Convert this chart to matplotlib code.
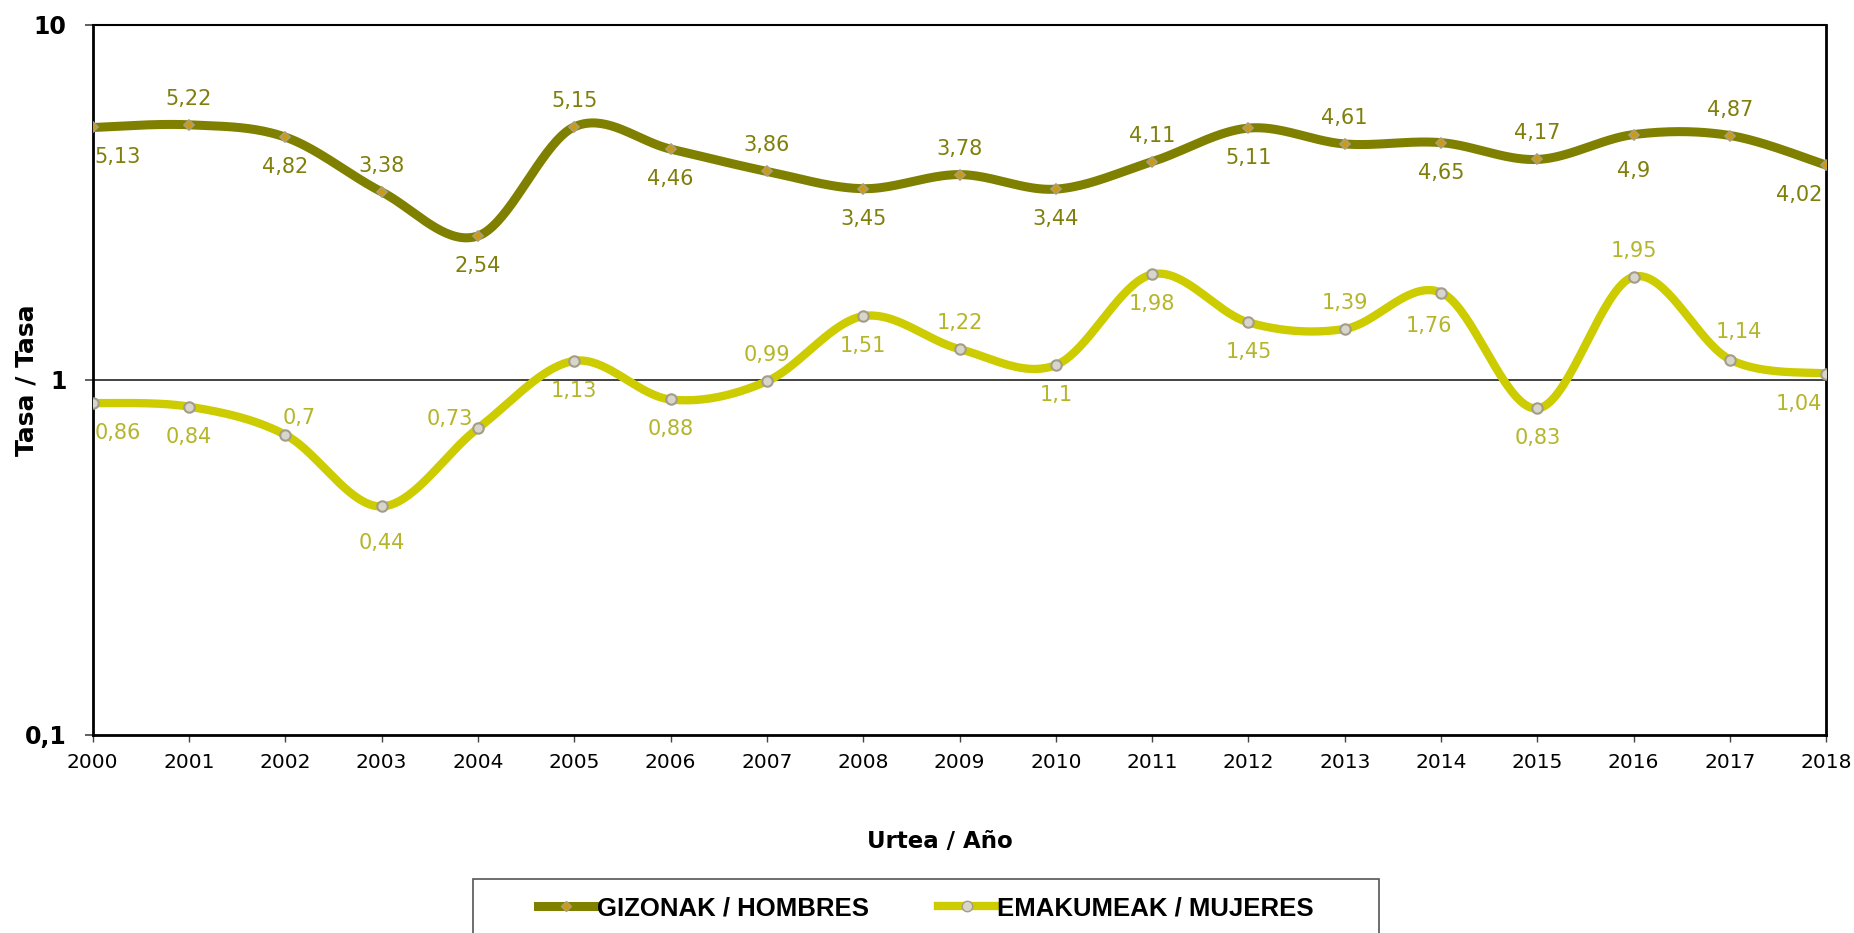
import matplotlib
matplotlib.use('Agg')
import matplotlib.pyplot as plt
from matplotlib.lines import Line2D
from matplotlib.patches import Rectangle
from matplotlib.ticker import FixedLocator, NullLocator
import numpy as np

# Datos
anios = [str(a) for a in range(2000, 2019)]
hombres = [5.13, 5.22, 4.82, 3.38, 2.54, 5.15, 4.46, 3.86, 3.45, 3.78,
           3.44, 4.11, 5.11, 4.61, 4.65, 4.17, 4.9, 4.87, 4.02]
mujeres = [0.86, 0.84, 0.7, 0.44, 0.73, 1.13, 0.88, 0.99, 1.51, 1.22,
           1.1, 1.98, 1.45, 1.39, 1.76, 0.83, 1.95, 1.14, 1.04]

# posicion de las etiquetas: a = arriba, b = abajo (estilo)
pos_h = ['b', 'a'] * 9 + ['b']
pos_m = ['b', 'b', 'a', 'b', 'a', 'b', 'b', 'a', 'b', 'a',
         'b', 'b', 'b', 'a', 'b', 'b', 'a', 'a', 'b']
# desplazamientos especiales en pixeles (dx, dy), dy positivo = arriba
extra_m = {2: (14, 17), 4: (-28, 9), 3: (0, -37), 14: (-12, -33), 17: (9, 28)}
extra_h = {16: (0, -36)}

c_hombres = '#808000'
c_mujeres = '#CCCC00'
c_txt_h = '#7F7F0A'
c_txt_m = '#B5B52A'

plt.rcParams['font.family'] = ['DejaVu Sans']


def suavizar(y, n=40):
    # curva tipo Catmull-Rom en espacio (x, log10 y), como el suavizado de Excel
    xs = np.arange(len(y), dtype=float)
    ys = np.log10(np.asarray(y, dtype=float))
    px = np.concatenate([[xs[0]], xs, [xs[-1]]])
    py = np.concatenate([[ys[0]], ys, [ys[-1]]])
    outx, outy = [], []
    t = np.linspace(0, 1, n)
    for i in range(1, len(px) - 2):
        p0, p1, p2, p3 = px[i - 1], px[i], px[i + 1], px[i + 2]
        q0, q1, q2, q3 = py[i - 1], py[i], py[i + 1], py[i + 2]
        c1x, c1y = p1 + (p2 - p0) / 6, q1 + (q2 - q0) / 6
        c2x, c2y = p2 - (p3 - p1) / 6, q2 - (q3 - q1) / 6
        bx = (1 - t) ** 3 * p1 + 3 * (1 - t) ** 2 * t * c1x + 3 * (1 - t) * t ** 2 * c2x + t ** 3 * p2
        by = (1 - t) ** 3 * q1 + 3 * (1 - t) ** 2 * t * c1y + 3 * (1 - t) * t ** 2 * c2y + t ** 3 * q2
        outx.extend(bx)
        outy.extend(by)
    return np.array(outx), 10 ** np.array(outy)


fig = plt.figure(figsize=(18.54, 9.33), dpi=100)
ax = fig.add_axes([92.7 / 1854, 1 - 735 / 933, (1826.3 - 92.7) / 1854, (735 - 24.5) / 933])

x = np.arange(len(anios))

ax.axhline(1, color='#222222', lw=1.2, zorder=1)

sx, sy = suavizar(hombres)
ax.plot(sx, sy, color=c_hombres, lw=6.5, solid_capstyle='butt', zorder=3)
ax.plot(x, hombres, ls='none', marker='D', ms=5, mfc='#D09A10', mec='#A89F80', mew=1.2, zorder=4)

sx, sy = suavizar(mujeres)
ax.plot(sx, sy, color=c_mujeres, lw=6, solid_capstyle='butt', zorder=3)
ax.plot(x, mujeres, ls='none', marker='o', ms=7.5, mfc='#D8D5CB', mec='#A39C8A', mew=1.5, zorder=4)


def etiquetas(valores, pos, extra, color):
    for i, v in enumerate(valores):
        if i in extra:
            dx, dy = extra[i]
        elif pos[i] == 'a':
            dx, dy = 0, 26
        else:
            dx, dy = 0, -30
        ha = 'center'
        if i == 0:
            ha = 'left'
            dx += 2
        elif i == len(valores) - 1:
            ha = 'right'
            dx -= 4
        txt = ('%g' % v).replace('.', ',')
        ax.annotate(txt, (i, v), xytext=(dx * 0.72, dy * 0.72), textcoords='offset points',
                    ha=ha, va='center', fontsize=15, color=color, zorder=5)


etiquetas(hombres, pos_h, extra_h, c_txt_h)
etiquetas(mujeres, pos_m, extra_m, c_txt_m)

ax.set_yscale('log')
ax.set_ylim(0.1, 10)
ax.set_xlim(0, len(anios) - 1)
ax.yaxis.set_major_locator(FixedLocator([0.1, 1, 10]))
ax.yaxis.set_minor_locator(NullLocator())
ax.set_yticklabels(['0,1', '1', '10'], fontsize=17, fontweight='bold')
ax.set_xticks(x)
ax.set_xticklabels(anios, fontsize=14.5)
ax.tick_params(axis='y', length=6, width=1.2, pad=13, color='#444444')
ax.tick_params(axis='x', length=5, width=1, pad=8, color='#444444')

for s in ax.spines.values():
    s.set_color('black')
    s.set_linewidth(2)
ax.spines['top'].set_linewidth(1.5)

fig.text(27 / 1854, 1 - 380 / 933, 'Tasa / Tasa', fontsize=18, fontweight='bold',
         rotation=90, ha='center', va='center')
fig.text(940 / 1854, 1 - 842 / 933, 'Urtea / Año', fontsize=16.5, fontweight='bold',
         ha='center', va='center')

# Leyenda
fig.patches.append(Rectangle((473 / 1854, 1 - 945 / 933), (1379 - 473) / 1854, 66 / 933,
                             transform=fig.transFigure, fill=False, ec='#555555', lw=1.2))
h1 = Line2D([], [], color=c_hombres, lw=6.5, marker='D', ms=5, mfc='#D09A10', mec='#A89F80')
h2 = Line2D([], [], color=c_mujeres, lw=6, marker='o', ms=7.5, mfc='#D8D5CB', mec='#A39C8A')
fig.legend([h1, h2], ['GIZONAK / HOMBRES', 'EMAKUMEAK / MUJERES'], ncol=2, frameon=False,
           loc='center', bbox_to_anchor=(926 / 1854, 1 - 908 / 933), handlelength=2.2,
           handletextpad=0.1, columnspacing=2.7,
           prop={'family': ['Liberation Sans', 'DejaVu Sans'], 'weight': 'bold', 'size': 18.5})

plt.savefig('out.png', dpi=100)
